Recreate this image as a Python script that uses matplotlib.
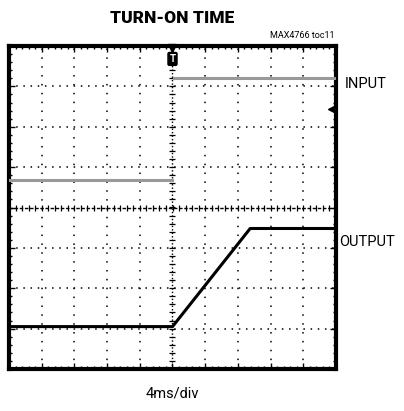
import matplotlib.pyplot as plt
import numpy as np

# time axis in ms (4 ms/div, 10 divisions), voltage in divisions (8 divisions)
input_low_t = [-20, 0]
input_low_v = [0.67, 0.67]
input_high_t = [0.2, 20]
input_high_v = [3.2, 3.2]
output_t = [-20, 0, 9.5, 20]
output_v = [-2.95, -2.95, -0.52, -0.52]
trig_level = 2.43

plt.rcParams['font.family'] = ['Roboto', 'DejaVu Sans']

fig = plt.figure(figsize=(4.04, 4.11), dpi=100)
ax = fig.add_axes([9 / 404, 42 / 411, 327 / 404, 323 / 411])
ax.set_xlim(-20, 20)
ax.set_ylim(-4, 4)

# dotted graticule
for x in np.arange(-16, 20, 4):
    if x != 0:
        ax.axvline(x, color='black', lw=1.1, ls=(0, (1, 4.8)), zorder=1)
for y in np.arange(-3, 4, 1):
    if y != 0:
        ax.axhline(y, color='black', lw=1.1, ls=(0, (1, 3.7)), zorder=1)

# center axes with small crosses
ax.axhline(0, color='black', lw=1.0, ls=(0, (2.5, 1.2)), zorder=1)
ax.axvline(0, color='black', lw=1.0, ls=(0, (1, 1.5)), zorder=1)
mx = np.arange(-20, 20.01, 0.8)
ax.plot(mx, np.zeros_like(mx), ls='none', marker='|', ms=5, mew=0.9, color='black', zorder=1)
my = np.arange(-4, 4.01, 0.2)
ax.plot(np.zeros_like(my), my, ls='none', marker='_', ms=4, mew=0.9, color='black', zorder=1)

# traces
ax.plot(input_low_t, input_low_v, color='#999999', lw=2.2, zorder=3)
ax.plot(input_high_t, input_high_v, color='#999999', lw=2.2, zorder=3)
ax.plot(output_t, output_v, color='black', lw=2.2, zorder=3)

# trigger markers
ax.plot([0], [3.96], marker='v', ms=6, color='black', clip_on=False, zorder=4)
ax.text(0, 3.68, 'T', ha='center', va='center', fontsize=7, fontweight='bold',
        color='white', zorder=5,
        bbox=dict(boxstyle='round,pad=0.15', fc='black', ec='black'))
ax.plot([19.4], [trig_level], marker='<', ms=5, color='black', clip_on=False, zorder=4)

ax.set_xticks(np.arange(-20, 21, 4))
ax.set_xticks(np.arange(-20, 20.01, 0.8), minor=True)
ax.set_yticks(np.arange(-4, 5, 1))
ax.set_yticks(np.arange(-4, 4.01, 0.2), minor=True)
ax.tick_params(which='both', direction='in', top=True, right=True,
               labelbottom=False, labelleft=False, width=1)
ax.tick_params(which='major', length=4)
ax.tick_params(which='minor', length=2.5)
for s in ax.spines.values():
    s.set_linewidth(3)

fig.text(172 / 404, 1 - 18 / 411, 'TURN-ON TIME', ha='center', va='center',
         fontsize=12.5, fontweight='heavy')
fig.text(334 / 404, 1 - 36 / 411, 'MAX4766 toc11', ha='right', va='center',
         fontsize=6.5)
fig.text(345 / 404, 1 - 84 / 411, 'INPUT', ha='left', va='center',
         fontsize=10.5)
fig.text(339 / 404, 1 - 242 / 411, 'OUTPUT', ha='left', va='center',
         fontsize=10.5)
fig.text(172 / 404, 1 - 393 / 411, '4ms/div', ha='center', va='center',
         fontsize=10.5)

fig.savefig('out.png', dpi=100)
